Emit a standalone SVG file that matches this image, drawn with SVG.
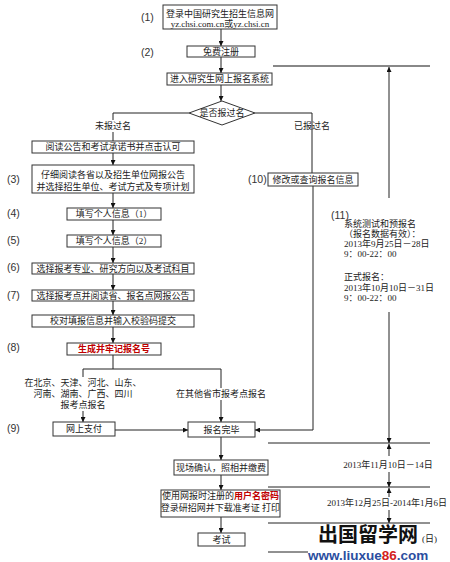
<svg xmlns="http://www.w3.org/2000/svg" width="450" height="562" viewBox="0 0 450 562">
<style>
.bx{fill:#fff;stroke:#333;stroke-width:1}
.t{font-family:"Liberation Serif","Noto Sans CJK SC",serif;font-size:9px;fill:#222}
.c{text-anchor:middle}
.lb{font-family:"Liberation Sans","Noto Sans CJK SC",sans-serif;font-size:10.5px;fill:#333}
.red{fill:#c00000;font-weight:bold}
.ln{fill:none;stroke:#222;stroke-width:1}
</style>
<defs>
<marker id="ah" viewBox="0 0 10 10" refX="10" refY="5" markerWidth="6" markerHeight="5" orient="auto" markerUnits="userSpaceOnUse">
<path d="M0,0 L10,5 L0,10 z" fill="#111"/>
</marker>
</defs>
<rect width="450" height="562" fill="#fff"/>

<g id="connectors">
<path class="ln" d="M221,29 V46" marker-end="url(#ah)"/>
<path class="ln" d="M221,57 V73" marker-end="url(#ah)"/>
<path class="ln" d="M221,85 V101" marker-end="url(#ah)"/>
<path class="ln" d="M189,113 H113 V120 M113,132 V141"/>
<path class="ln" d="M255,113 H312 V173"/>
<path class="ln" d="M113,153 V165" marker-end="url(#ah)"/>
<path class="ln" d="M113,193 V208" marker-end="url(#ah)"/>
<path class="ln" d="M113,220 V235" marker-end="url(#ah)"/>
<path class="ln" d="M113,247 V263" marker-end="url(#ah)"/>
<path class="ln" d="M113,274 V290" marker-end="url(#ah)"/>
<path class="ln" d="M113,301 V315" marker-end="url(#ah)"/>
<path class="ln" d="M113,327 V343" marker-end="url(#ah)"/>
<path class="ln" d="M113,355 V369 M83,377 V369 H221 V388"/>
<path class="ln" d="M83,411 V422" marker-end="url(#ah)"/>
<path class="ln" d="M221,400 V422" marker-end="url(#ah)"/>
<path class="ln" d="M115,430 H188" marker-end="url(#ah)"/>
<path class="ln" d="M313,186 V430 H255" marker-end="url(#ah)"/>
<path class="ln" d="M221,437 V460" marker-end="url(#ah)"/>
<path class="ln" d="M221,475 V490" marker-end="url(#ah)"/>
<path class="ln" d="M221,517 V533" marker-end="url(#ah)"/>
<path d="M273,66 H430" stroke="#888" stroke-width="2" fill="none"/>
<path class="ln" d="M389,198 V67" marker-end="url(#ah)"/>
<path class="ln" d="M389,312 V443" marker-end="url(#ah)"/>
<path class="ln" d="M268,443 H430"/>
<path class="ln" d="M389,456 V444" marker-end="url(#ah)"/>
<path class="ln" d="M389,472 V487" marker-end="url(#ah)"/>
<path class="ln" d="M268,487 H430"/>
<path class="ln" d="M389,497 V488" marker-end="url(#ah)"/>
<path class="ln" d="M389,510 V523" marker-end="url(#ah)"/>
<path class="ln" d="M268,523 H430"/>
<path class="ln" d="M268,552 H308"/>
</g>

<g id="labels">
<text class="t c" x="113" y="129">未报过名</text>
<text class="t c" x="312" y="129">已报过名</text>
<text class="t c" x="83" y="386">在北京、天津、河北、山东、</text>
<text class="t c" x="83" y="397">河南、湖南、广西、四川</text>
<text class="t c" x="83" y="408">报考点报名</text>
<text class="t c" x="221" y="397">在其他省市报考点报名</text>
<text class="lb" x="141" y="21">(1)</text>
<text class="lb" x="141" y="56">(2)</text>
<text class="lb" x="7" y="183">(3)</text>
<text class="lb" x="7" y="217">(4)</text>
<text class="lb" x="7" y="244">(5)</text>
<text class="lb" x="7" y="271">(6)</text>
<text class="lb" x="7" y="299">(7)</text>
<text class="lb" x="7" y="351">(8)</text>
<text class="lb" x="7" y="432">(9)</text>
<text class="lb" x="248" y="183">(10)</text>
</g>

<g id="n1"><rect class="bx" x="163" y="5" width="114" height="24"/>
<text class="t c" x="220" y="16.5">登录中国研究生招生信息网</text>
<text class="t c" x="220" y="27">yz.chsi.com.cn或yz.chsi.cn</text></g>
<g id="n2"><rect class="bx" x="187" y="46" width="68" height="11"/>
<text class="t c" x="221" y="54.5">免费注册</text></g>
<g id="n3"><rect class="bx" x="167" y="73" width="105" height="12"/>
<text class="t c" x="219.5" y="82.3">进入研究生网上报名系统</text></g>
<g id="decision"><polygon class="bx" points="222,101 255,113 222,125 189,113"/>
<text class="t c" x="222" y="116.3">是否报过名</text></g>
<g id="read"><rect class="bx" x="32" y="141" width="162" height="12"/>
<text class="t c" x="113" y="150.3">阅读公告和考试承诺书并点击认可</text></g>
<g id="n-3"><rect class="bx" x="32" y="165" width="162" height="28"/>
<text class="t c" x="113" y="178">仔细阅读各省以及招生单位网报公告</text>
<text class="t c" x="113" y="190">并选择招生单位、考试方式及专项计划</text></g>
<g id="n-4"><rect class="bx" x="67" y="208" width="94" height="12"/>
<text class="t c" x="114" y="217.3">填写个人信息（1）</text></g>
<g id="n-5"><rect class="bx" x="67" y="235" width="94" height="12"/>
<text class="t c" x="114" y="244.3">填写个人信息（2）</text></g>
<g id="n-6"><rect class="bx" x="32" y="263" width="162" height="11"/>
<text class="t c" x="113" y="271.8">选择报考专业、研究方向以及考试科目</text></g>
<g id="n-7"><rect class="bx" x="32" y="290" width="162" height="11"/>
<text class="t c" x="113" y="298.8">选择报考点并阅读省、报名点网报公告</text></g>
<g id="check"><rect class="bx" x="32" y="315" width="162" height="12"/>
<text class="t c" x="113" y="324.3">校对填报信息并输入校验码提交</text></g>
<g id="n-8"><rect class="bx" x="67" y="343" width="94" height="12"/>
<text class="t c red" x="114" y="352.3">生成并牢记报名号</text></g>
<g id="pay"><rect class="bx" x="53" y="422" width="62" height="14"/>
<text class="t c" x="84" y="432.3">网上支付</text></g>
<g id="done"><rect class="bx" x="188" y="422" width="67" height="15"/>
<text class="t c" x="221.5" y="432.8">报名完毕</text></g>
<g id="n-10"><rect class="bx" x="268" y="173" width="90" height="13"/>
<text class="t c" x="313" y="182.8">修改或查询报名信息</text></g>
<g id="n-11">
<text class="lb" x="331" y="219">(11)</text>
<text class="t" x="344" y="226.5">系统测试和预报名</text>
<text class="t" x="344" y="236.5">（报名数据有效）：</text>
<text class="t" x="344" y="246.5">2013年9月25日－28日</text>
<text class="t" x="344" y="256.5">9：00-22：00</text>
<text class="t" x="344" y="279.5">正式报名：</text>
<text class="t" x="344" y="290.5">2013年10月10日－31日</text>
<text class="t" x="344" y="300.5">9：00-22：00</text>
</g>
<g id="confirm"><rect class="bx" x="174" y="460" width="94" height="15"/>
<text class="t c" x="221" y="470.8">现场确认，照相并缴费</text></g>
<g id="print"><rect class="bx" x="161" y="490" width="119" height="27"/>
<text class="t c" x="220.5" y="498.5">使用网报时注册的<tspan class="red">用户名密码</tspan></text>
<text class="t c" x="220.5" y="510.5">登录研招网并下载准考证 打印</text></g>
<g id="exam"><rect class="bx" x="198" y="533" width="47" height="13"/>
<text class="t c" x="221.5" y="542.8">考试</text></g>
<g id="dates">
<text class="t c" x="388" y="468">2013年11月10日－14日</text>
<text class="t c" x="387" y="506">2013年12月25日-2014年1月6日</text>
<text class="t" x="422" y="542" fill="#555">(日)</text>
</g>
<g id="watermark">
<text x="368" y="542" text-anchor="middle" font-family="'Noto Sans CJK SC',sans-serif" font-weight="bold" font-size="20" fill="#111">出国留学网</text>
<text x="308" y="560" font-family="'Liberation Sans',sans-serif" font-weight="bold" font-size="13.5" fill="#2b4ea0">www.liuxue<tspan fill="#d42020">86</tspan>.com</text>
</g>
</svg>
